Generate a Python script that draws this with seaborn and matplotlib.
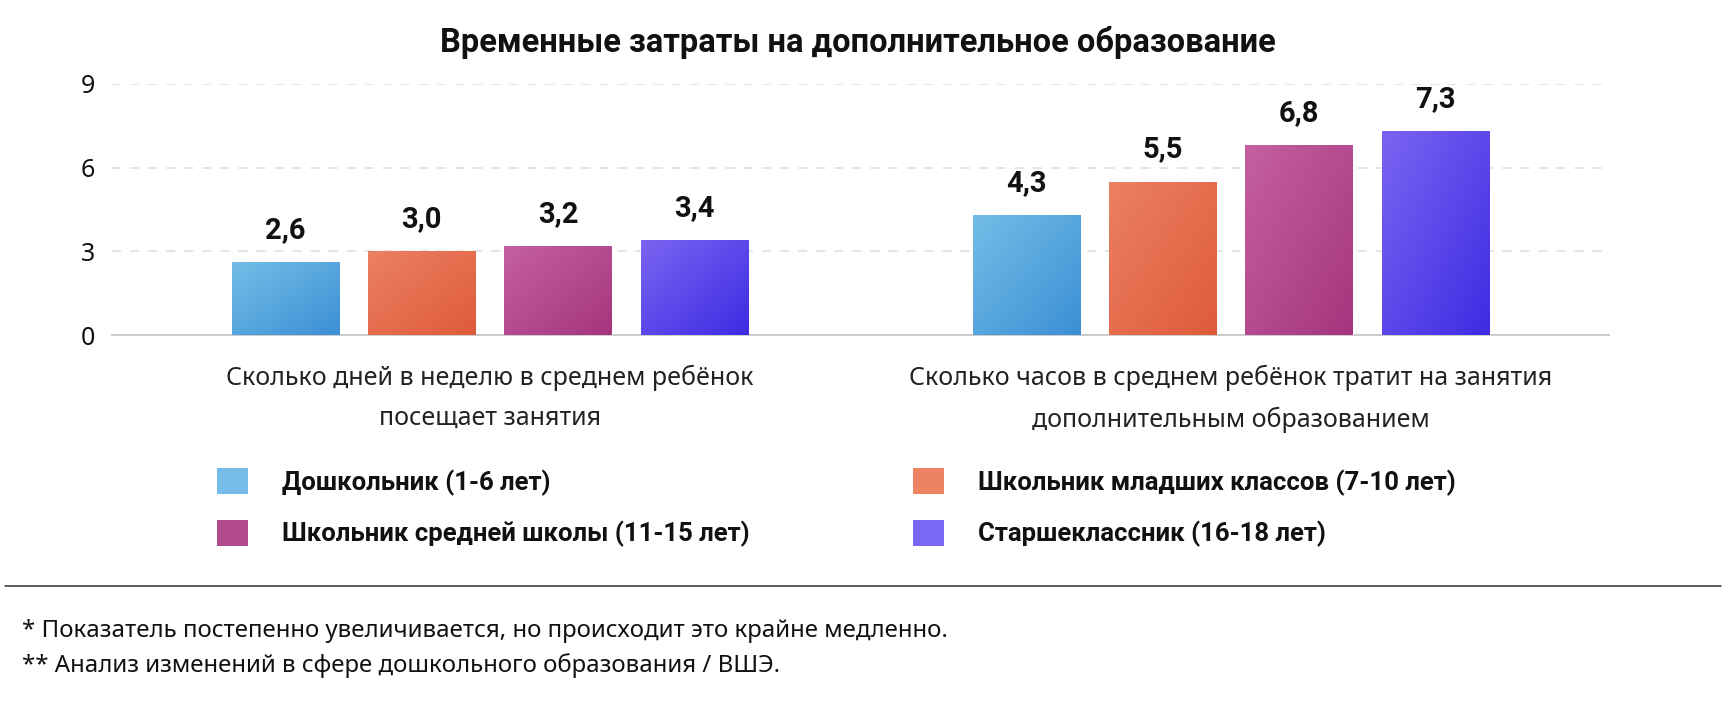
import numpy as np
import pandas as pd
import matplotlib.pyplot as plt
import seaborn as sns
from matplotlib.lines import Line2D
from matplotlib.patches import Patch
from matplotlib.colors import to_rgb

questions = ["Сколько дней в неделю в среднем ребёнок\nпосещает занятия",
             "Сколько часов в среднем ребёнок тратит на занятия\nдополнительным образованием"]
groups = ["Дошкольник (1-6 лет)", "Школьник младших классов (7-10 лет)",
          "Школьник средней школы (11-15 лет)", "Старшеклассник (16-18 лет)"]
days_values = [2.6, 3.0, 3.2, 3.4]
hours_values = [4.3, 5.5, 6.8, 7.3]
yticks = [0, 3, 6, 9]

legend_colors = ["#75BDE8", "#EE8364", "#B14A8C", "#7B67F5"]
grad_light = ["#74BDE7", "#EC8063", "#C460A1", "#7A64F2"]
grad_dark = ["#3C8FD5", "#DE5B3A", "#A5357E", "#3E2BE2"]

df = pd.DataFrame({
    "question": [questions[0]] * 4 + [questions[1]] * 4,
    "group": groups * 2,
    "value": days_values + hours_values,
})

sns.set_style("white")
plt.rcParams['font.family'] = ['Noto Sans', 'DejaVu Sans']
BOLD = ['Roboto', 'DejaVu Sans']

fig = plt.figure(figsize=(17.3, 7.04), dpi=100)
ax = fig.add_axes([0.0647, 0.524, 0.8653, 0.357])

sns.barplot(data=df, x="question", y="value", hue="group", palette=legend_colors,
            width=0.735, gap=0.213, legend=False, ax=ax, zorder=3)

xlim = (-0.51, 1.51)
ylim = (0, 9)

# diagonal gradient on each bar, light top-left -> dark bottom-right
n = 64
gx, gy = np.meshgrid(np.linspace(0, 1, n), np.linspace(0, 1, n))
t = (gx + gy) / 2
for i, cont in enumerate(ax.containers):
    c0 = np.array(to_rgb(grad_light[i]))
    c1 = np.array(to_rgb(grad_dark[i]))
    img = c0[None, None, :] * (1 - t[..., None]) + c1[None, None, :] * t[..., None]
    for bar in cont:
        x0, w, h = bar.get_x(), bar.get_width(), bar.get_height()
        im = ax.imshow(img, extent=[x0, x0 + w, 0, h], origin='upper',
                       aspect='auto', zorder=4, interpolation='bilinear')
        im.set_clip_path(bar)
    labels = [f"{v:.1f}".replace('.', ',') for v in cont.datavalues]
    ax.bar_label(cont, labels=labels, padding=13, fontsize=21, fontweight='bold',
                 family=BOLD, color='#111111', zorder=5)

ax.set_xlim(*xlim)
ax.set_ylim(*ylim)
ax.set_yticks(yticks)
ax.set_yticklabels([str(v) for v in yticks], fontsize=18, color='#111111')
ax.set_xticks([0, 1])
ax.set_xticklabels(questions, fontsize=18, color='#222222', linespacing=1.8)
ax.tick_params(axis='x', length=0, pad=21)
ax.tick_params(axis='y', length=0, pad=12)
ax.set_xlabel("")
ax.set_ylabel("")

for v in yticks[1:]:
    ax.axhline(v, color='#e2e2e2', lw=1.3, ls=(0, (5, 5)), zorder=1)
ax.spines[['top', 'right', 'left']].set_visible(False)
ax.spines['bottom'].set_color('#cccccc')
ax.spines['bottom'].set_linewidth(1.5)

fig.text(0.496, 0.94, "Временные затраты на дополнительное образование",
         ha='center', va='center', fontsize=23.5, fontweight='bold', family=BOLD,
         color='#111111')

# legend, two columns
handles = [Patch(facecolor=c, edgecolor='none') for c in legend_colors]
leg_kw = dict(frameon=False, loc='upper left', borderpad=0, borderaxespad=0,
              handlelength=1.2, handleheight=1.2, handletextpad=1.32,
              labelspacing=0.93, prop={'size': 18.5, 'weight': 'bold', 'family': BOLD})
leg1 = fig.legend([handles[0], handles[2]], [groups[0], groups[2]],
                  bbox_to_anchor=(0.1254, 0.335), **leg_kw)
leg2 = fig.legend([handles[1], handles[3]], [groups[1], groups[3]],
                  bbox_to_anchor=(0.5277, 0.335), **leg_kw)
for leg in (leg1, leg2):
    for txt in leg.get_texts():
        txt.set_color('#111111')

fig.add_artist(Line2D([0.003, 0.995], [0.1676, 0.1676], color='#333333', lw=1.1))
fig.text(0.013, 0.104, "* Показатель постепенно увеличивается, но происходит это крайне медленно.",
         ha='left', va='center', fontsize=17.3, color='#111111')
fig.text(0.013, 0.054, "** Анализ изменений в сфере дошкольного образования / ВШЭ.",
         ha='left', va='center', fontsize=17.3, color='#111111')

fig.savefig("out.png", dpi=100)
